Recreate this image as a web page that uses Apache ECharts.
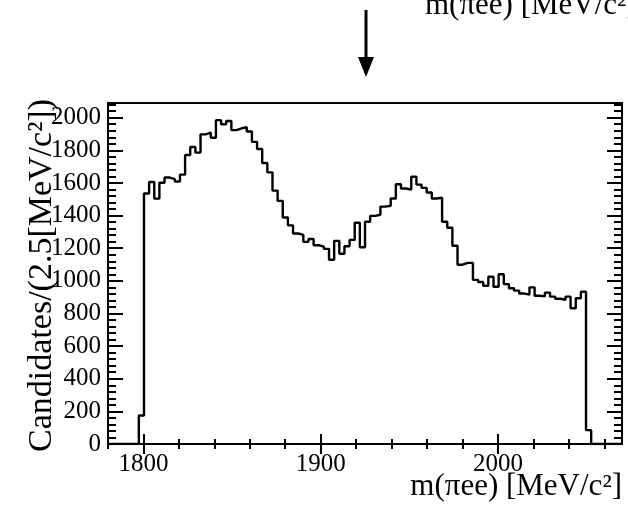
<!DOCTYPE html>
<html><head><meta charset="utf-8">
<script src="https://cdn.jsdelivr.net/npm/echarts@6/dist/echarts.min.js"></script>
<style>html,body{margin:0;padding:0;background:#fff}#c{width:628px;height:513px}</style>
</head><body><div id="c"></div>
<script>
// histogram definition: 100 bins from 1780 to 2070 MeV
const binStart = 1780, binWidth = 2.9, xEnd = 2070;
const counts = [
  0,0,0,0,0,0,175,
  1535,1606,1504,1601,1633,1623,1609,1651,1771,1820,
  1786,1898,1908,1877,1985,1960,1980,1924,1935,1942,
  1915,1852,1808,1722,1665,1553,1490,1388,1340,1290,
  1282,1239,1256,1218,1210,1196,1129,1245,1166,1212,
  1251,1356,1206,1362,1398,1405,1455,1460,1505,1592,
  1566,1559,1638,1590,1570,1541,1505,1509,1362,1325,
  1215,1099,1110,1110,1006,993,970,1025,964,1040,
  980,955,940,922,916,960,909,905,928,903,
  890,884,903,832,893,933,
  85,0,0,0,0,0,0
];
const xLabels = [1800, 1900, 2000];
const xMinor = [1780,1800,1820,1840,1860,1880,1900,1920,1940,1960,1980,2000,2020,2040,2060];
const yLabels = [0,200,400,600,800,1000,1200,1400,1600,1800,2000];
const yMinor = [0,40,80,120,160,200,240,280,320,360,400,440,480,520,560,600,640,680,720,760,800,840,880,920,960,1000,1040,1080,1120,1160,1200,1240,1280,1320,1360,1400,1440,1480,1520,1560,1600,1640,1680,1720,1760,1800,1840,1880,1920,1960,2000,2040,2080];
const xTitle = 'm(\u03C0ee) [MeV/c\u00B2]';
const yTitle = 'Candidates/(2.5[MeV/c\u00B2])';

const stepData = counts.map((v, i) => [binStart + i * binWidth, v]);
stepData.push([xEnd, 0]);

const FONT = 'Liberation Serif';
const X0 = 1780, X1 = 2070, Y0 = 0, Y1 = 2090;

function xAx(pos, ticks, len, labels) {
  return {
    type: 'value', position: pos, min: X0, max: X1, gridIndex: 0,
    axisLine: {show: false}, splitLine: {show: false},
    axisTick: {show: true, inside: true, length: len, customValues: ticks, lineStyle: {color: '#000', width: 2}},
    axisLabel: labels ? {show: true, customValues: labels, formatter: v => String(v), fontFamily: FONT, fontSize: 25, color: '#000', margin: 8} : {show: false}
  };
}
function yAx(pos, ticks, len, labels) {
  return {
    type: 'value', position: pos, min: Y0, max: Y1, gridIndex: 0,
    axisLine: {show: false}, splitLine: {show: false},
    axisTick: {show: true, inside: true, length: len, customValues: ticks, lineStyle: {color: '#000', width: 2}},
    axisLabel: labels ? {show: true, customValues: labels, formatter: v => String(v), fontFamily: FONT, fontSize: 25, color: '#000', margin: 7} : {show: false}
  };
}

const chart = echarts.init(document.getElementById('c'), null, {renderer: 'canvas'});
chart.setOption({
  animation: false,
  backgroundColor: '#fff',
  grid: {left: 108, top: 103, width: 514, height: 341, show: true, borderColor: '#000', borderWidth: 2, backgroundColor: 'transparent'},
  xAxis: [
    xAx('bottom', xLabels, 10, xLabels),
    xAx('bottom', xMinor, 5, null),
    xAx('top', xLabels, 10, null),
    xAx('top', xMinor, 5, null)
  ],
  yAxis: [
    yAx('left', yLabels, 15, yLabels),
    yAx('left', yMinor, 8, null),
    yAx('right', yLabels, 15, null),
    yAx('right', yMinor, 8, null)
  ],
  series: [{
    type: 'line', xAxisIndex: 0, yAxisIndex: 0, step: 'end',
    data: stepData, showSymbol: false, symbol: 'none',
    lineStyle: {color: '#000', width: 2.4}, clip: true
  }],
  graphic: [
    {type: 'text', x: 622, y: 502, style: {text: xTitle, font: '31px "Liberation Serif"', fill: '#000', align: 'right', verticalAlign: 'bottom'}},
    {type: 'text', x: 42, y: 99, rotation: Math.PI / 2, style: {text: yTitle, font: '34px "Liberation Serif"', fill: '#000', align: 'right', verticalAlign: 'middle'}},
    {type: 'text', x: 425, y: 21, style: {text: xTitle, font: '31px "Liberation Serif"', fill: '#000', align: 'left', verticalAlign: 'bottom'}},
    {type: 'line', shape: {x1: 366, y1: 10, x2: 366, y2: 62}, style: {stroke: '#000', lineWidth: 3}},
    {type: 'polygon', shape: {points: [[358, 57], [374, 57], [366, 77]]}, style: {fill: '#000'}}
  ]
});
</script></body></html>
